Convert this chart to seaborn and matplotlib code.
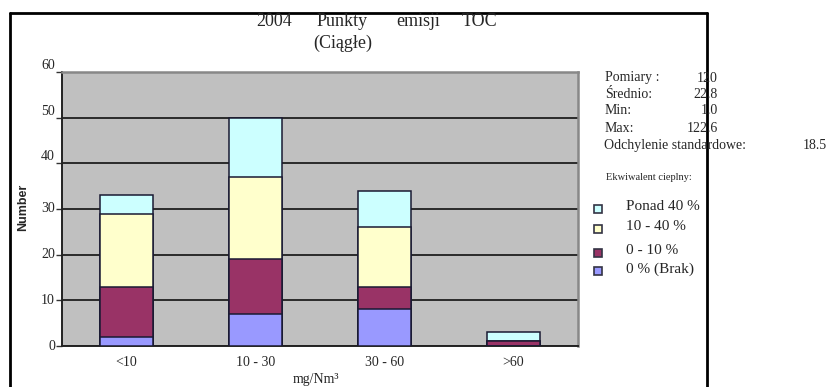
import matplotlib
matplotlib.use("Agg")
import matplotlib.pyplot as plt
import seaborn as sns
import numpy as np
import pandas as pd
from matplotlib.patches import Rectangle
from matplotlib.lines import Line2D

# ---- data ----
categories = ["<10", "10 - 30", "30 - 60", ">60"]
series_names = ["0 % (Brak)", "0 - 10 %", "10 - 40 %", "Ponad 40 %"]
brak = [2, 7, 8, 0]
p0_10 = [11, 12, 5, 1]
p10_40 = [16, 18, 13, 0]
ponad40 = [4, 13, 8, 2]
colors = ["#9999ff", "#993366", "#ffffcc", "#ccffff"]
yticks = [0, 10, 20, 30, 40, 50, 60]
stat_labels = ["Pomiary :", "Średnio:", "Min:", "Max:"]
stat_values = ["120", "22.8", "1.0", "122.6"]
std_label = "Odchylenie standardowe:"
std_value = "18.5"

sns.set_theme(style="white")
plt.rcParams["font.family"] = ["Liberation Serif", "DejaVu Serif"]

W, H = 839, 387
fig = plt.figure(figsize=(W / 100, H / 100), dpi=100)
ax = fig.add_axes([62 / W, 1 - 346 / H, (578 - 62) / W, (346 - 72) / H])
ax.set_facecolor("#c0c0c0")

series = [brak, p0_10, p10_40, ponad40]
cum = np.cumsum(np.array(series), axis=0)
# draw tallest (cumulative) first, then overlay lower segments
for i in range(len(series) - 1, -1, -1):
    df = pd.DataFrame({"cat": categories, "val": cum[i]})
    sns.barplot(data=df, x="cat", y="val", color=colors[i], saturation=1,
                width=0.41, edgecolor="#1a1a33", linewidth=1.1, ax=ax,
                order=categories, zorder=3)

ax.set_xlim(-0.5, len(categories) - 0.5)
ax.set_ylim(0, 60)
ax.set_yticks(yticks)
ax.set_yticklabels([str(t) for t in yticks], fontsize=10)
ax.set_xticks(range(len(categories)))
ax.set_xticklabels(categories, fontsize=10)
ax.set_xticks(np.arange(-0.5, len(categories), 1.0), minor=True)
ax.tick_params(axis="x", which="major", length=0, pad=7)
ax.tick_params(axis="x", which="minor", length=4, width=1, color="#333333", direction="out")
ax.tick_params(axis="y", length=4, width=1, color="#333333", direction="out", left=True, pad=1)
for lab, t in zip(ax.get_yticklabels(), yticks):
    lab.set_va("bottom" if t >= 40 else "center")

ax.set_axisbelow(True)
ax.yaxis.grid(True, color="#2a2a2a", linewidth=1.4, zorder=1)
ax.xaxis.grid(False)
for s in ["top", "right"]:
    ax.spines[s].set_color("#888888")
    ax.spines[s].set_linewidth(1.8)
for s in ["left", "bottom"]:
    ax.spines[s].set_color("#222222")
    ax.spines[s].set_linewidth(1.4)

ax.set_xlabel("")
ax.set_ylabel("")
fig.text(316 / W, 1 - 379 / H, "mg/Nm³", ha="center", va="center", fontsize=10)
fig.text(23 / W, 1 - 207 / H, "Number", rotation=90, ha="center", va="center",
         fontsize=9, fontweight="bold", family=["Liberation Sans", "DejaVu Sans"])

# title
title_words = ["2004", "Punkty", "emisji", "TOC"]
title_x = [274, 342, 418, 480]
for w, x in zip(title_words, title_x):
    fig.text(x / W, 1 - 21 / H, w, ha="center", va="center", fontsize=13)
fig.text(343 / W, 1 - 43 / H, "(Ciągłe)", ha="center", va="center", fontsize=13)

# stats block
ys = [78, 95, 111, 128]
for lab, val, y in zip(stat_labels, stat_values, ys):
    fig.text(605 / W, 1 - y / H, lab, ha="left", va="center", fontsize=10)
    fig.text(718 / W, 1 - y / H, val, ha="right", va="center", fontsize=10)
fig.text(604 / W, 1 - 145 / H, std_label, ha="left", va="center", fontsize=10)
fig.text(827 / W, 1 - 145 / H, std_value, ha="right", va="center", fontsize=10)
fig.text(606 / W, 1 - 178 / H, "Ekwiwalent cieplny:", ha="left", va="center", fontsize=7.5)

# legend
leg_y = [209, 229, 253, 271]
for i, y in zip(range(len(series) - 1, -1, -1), leg_y):
    fig.add_artist(Rectangle(((598 - 4) / W, 1 - (y + 4) / H), 8 / W, 8 / H,
                             facecolor=colors[i], edgecolor="#333344", linewidth=1.2,
                             transform=fig.transFigure))
    fig.text(626 / W, 1 - (y - 2) / H, series_names[i], ha="left", va="center", fontsize=11)

# outer frame
fig.add_artist(Line2D([10 / W, 707 / W], [1 - 13 / H, 1 - 13 / H], color="black",
                      linewidth=2, transform=fig.transFigure))
fig.add_artist(Line2D([10 / W, 10 / W], [0, 1 - 13 / H], color="black",
                      linewidth=2, transform=fig.transFigure))
fig.add_artist(Line2D([707 / W, 707 / W], [0, 1 - 13 / H], color="black",
                      linewidth=2, transform=fig.transFigure))

fig.savefig("out.png", dpi=100, facecolor="white")
